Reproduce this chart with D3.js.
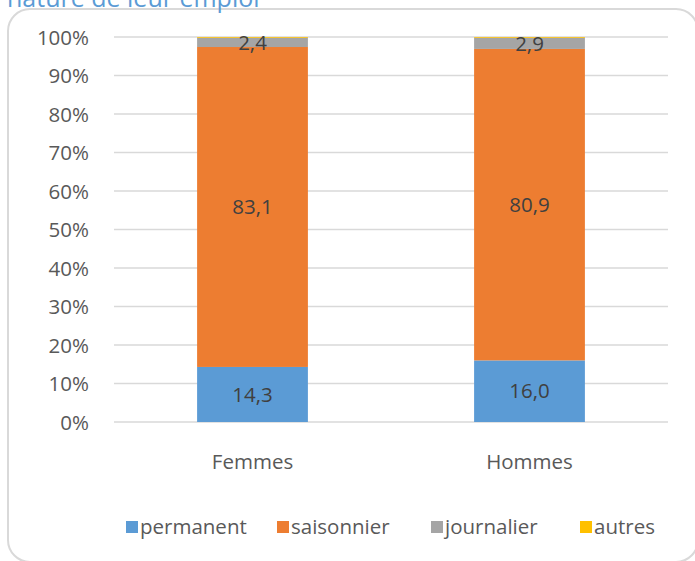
<!DOCTYPE html>
<html><head><meta charset="utf-8">
<script src="https://cdn.jsdelivr.net/npm/d3@7/dist/d3.min.js"></script>
<style>
html,body{margin:0;padding:0;background:#fff;overflow:hidden;}
svg{display:block;}
svg text{font-family:"Open Sans","Noto Sans",sans-serif;}
</style></head>
<body><svg id="c" width="695" height="561"></svg>
<script>
const categories = ["Femmes", "Hommes"];
const seriesNames = ["permanent", "saisonnier", "journalier", "autres"];
const permanent = [14.3, 16.0];
const saisonnier = [83.1, 80.9];
const journalier = [2.4, 2.9];
const autres = [0.2, 0.2];
const yTicks = [0, 10, 20, 30, 40, 50, 60, 70, 80, 90, 100];
const colors = ["#5B9BD5", "#ED7D31", "#A5A5A5", "#FFC000"];
const titleText = "nature de leur emploi";

(function () {
const svg = d3.select("#c");
const pLeft = 114, pRight = 668, pTop = 37, pBottom = 422;
const fs = 20.5;

// frame
svg.append("rect").attr("x", 8).attr("y", 9).attr("width", 690).attr("height", 553)
  .attr("rx", 22).attr("fill", "#fff").attr("stroke", "#d9d9d9").attr("stroke-width", 2);

// title (cut at top as in the original)
svg.append("text").attr("x", 7).attr("y", 7).attr("fill", "#5B9BD5")
  .attr("font-size", 25).text(titleText);

const x = d3.scaleBand().domain(categories).range([pLeft, pRight]).paddingInner(0.6).paddingOuter(0.3);
const y = d3.scaleLinear().domain([0, 100]).range([pBottom, pTop]);

// grid
svg.append("g").selectAll("line").data(yTicks).join("line")
  .attr("x1", pLeft).attr("x2", pRight)
  .attr("y1", d => y(d)).attr("y2", d => y(d))
  .attr("stroke", "#d9d9d9").attr("stroke-width", 1.5);

// y axis labels
const yAxis = d3.axisLeft(y).tickValues(yTicks).tickFormat(d => d + "%").tickSize(0).tickPadding(0);
const ya = svg.append("g").attr("transform", `translate(89,0)`).call(yAxis);
ya.select(".domain").remove();
ya.selectAll("text").attr("fill", "#595959").attr("font-size", fs).attr("dy", "0.35em");

const rows = categories.map((c, i) => ({cat: c, permanent: permanent[i], saisonnier: saisonnier[i], journalier: journalier[i], autres: autres[i]}));
const stack = d3.stack().keys(seriesNames)(rows);

const g = svg.append("g");
stack.forEach((s, si) => {
  g.append("g").selectAll("rect").data(s).join("rect")
    .attr("x", d => x(d.data.cat))
    .attr("width", x.bandwidth())
    .attr("y", d => y(d[1]))
    .attr("height", d => y(d[0]) - y(d[1]))
    .attr("fill", colors[si]);
});

// data labels
const fmt = v => v.toFixed(1).replace(".", ",");
stack.forEach((s, si) => {
  if (si > 2) return;
  g.append("g").selectAll("text").data(s).join("text")
    .attr("x", d => x(d.data.cat) + x.bandwidth() / 2)
    .attr("y", d => y((d[0] + d[1]) / 2))
    .attr("dy", "0.35em")
    .attr("text-anchor", "middle")
    .attr("fill", "#404040").attr("font-size", fs)
    .text(d => fmt(d[1] - d[0]));
});

// x axis labels
const xAxis = d3.axisBottom(x).tickSize(0).tickPadding(0);
const xa = svg.append("g").attr("transform", `translate(0,462)`).call(xAxis);
xa.select(".domain").remove();
xa.selectAll("text").attr("fill", "#595959").attr("font-size", fs).attr("dy", "0.35em");

// legend
const legendX = [126, 277, 431, 580];
const lg = svg.append("g").selectAll("g").data(seriesNames).join("g")
  .attr("transform", (d, i) => `translate(${legendX[i]},527)`);
lg.append("rect").attr("x", 0).attr("y", -6).attr("width", 12).attr("height", 12)
  .attr("fill", (d, i) => colors[i]);
lg.append("text").attr("x", 14).attr("y", 0).attr("dy", "0.35em")
  .attr("fill", "#595959").attr("font-size", fs).text(d => d);
})();
</script></body></html>
